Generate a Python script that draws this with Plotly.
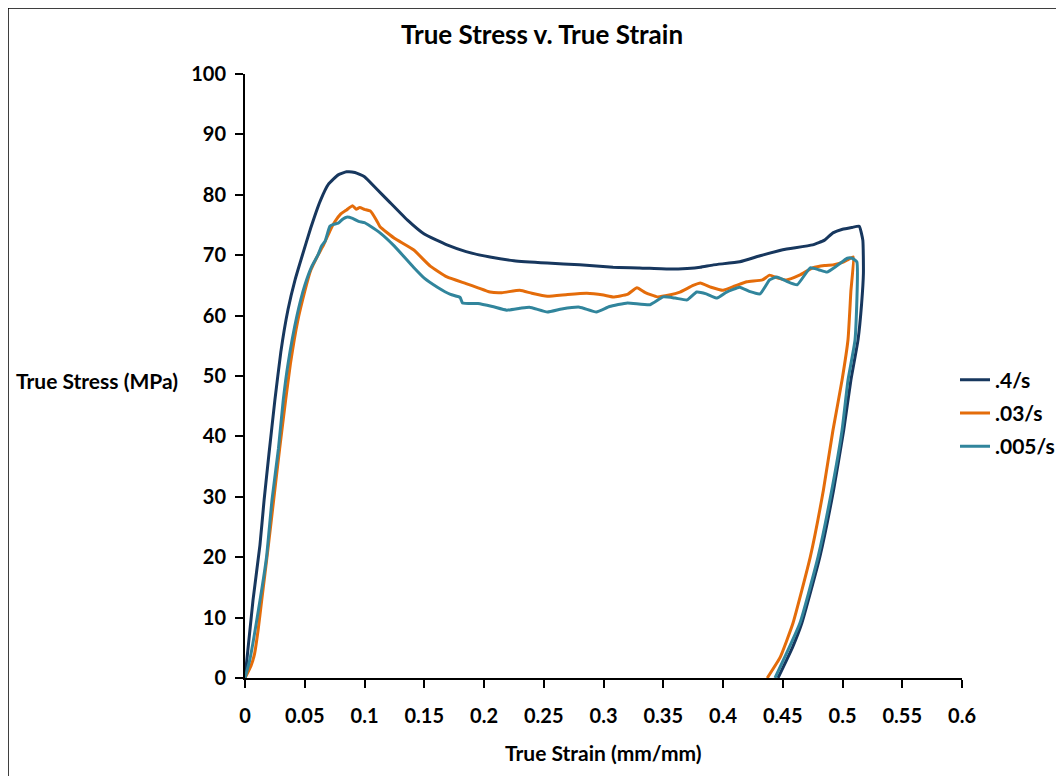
import plotly.graph_objects as go

# ---- data ----
series_names = [".4/s", ".03/s", ".005/s"]
series_colors = ["#17375E", "#E46C0A", "#31859C"]

strain_04 = [0, 0.0067, 0.0125, 0.016, 0.020, 0.025, 0.030, 0.036, 0.042, 0.048, 0.055, 0.063,
             0.070, 0.078, 0.085, 0.092, 0.100, 0.110, 0.120, 0.136, 0.150, 0.169, 0.185, 0.205,
             0.225, 0.253, 0.280, 0.308, 0.330, 0.356, 0.370, 0.381, 0.392, 0.414, 0.431, 0.450,
             0.475, 0.485, 0.492, 0.500, 0.508, 0.514, 0.517, 0.5175, 0.516, 0.513, 0.507, 0.501,
             0.4925, 0.481, 0.466, 0.458, 0.446]
stress_04 = [0, 12.9, 22, 29.5, 37, 46, 54, 61, 66, 70, 74.5, 79,
             81.8, 83.3, 83.8, 83.7, 83.0, 81.0, 79.0, 75.8, 73.5, 71.7, 70.6, 69.7,
             69.1, 68.7, 68.4, 68.0, 67.9, 67.7, 67.8, 68.0, 68.4, 68.9, 69.9, 70.9,
             71.7, 72.5, 73.7, 74.3, 74.6, 74.8, 72.5, 67, 62, 56, 49.3, 41,
             31.1, 20, 9.1, 5, 0]

strain_003 = [0, 0.005, 0.008, 0.011, 0.014, 0.019, 0.024, 0.029, 0.034, 0.038, 0.044, 0.050,
              0.055, 0.061, 0.066, 0.071, 0.075, 0.080, 0.085, 0.090, 0.093, 0.096, 0.100, 0.105,
              0.110, 0.113, 0.125, 0.141, 0.155, 0.169, 0.185, 0.195, 0.205, 0.215, 0.230, 0.240,
              0.253, 0.270, 0.286, 0.300, 0.308, 0.320, 0.328, 0.335, 0.345, 0.355, 0.364, 0.375,
              0.381, 0.390, 0.400, 0.410, 0.420, 0.433, 0.439, 0.446, 0.453, 0.464, 0.475, 0.485,
              0.492, 0.500, 0.504, 0.509, 0.507, 0.5046, 0.4996, 0.492, 0.484, 0.473, 0.4586,
              0.448, 0.437]
stress_003 = [0, 2, 4, 8, 12.9, 21, 29.5, 38, 46, 52, 59, 64,
              67.5, 70, 71.8, 74, 75.5, 76.8, 77.5, 78.2, 77.6, 77.9, 77.6, 77.3,
              75.8, 74.7, 72.8, 70.9, 68.2, 66.4, 65.3, 64.6, 63.9, 63.8, 64.2, 63.7,
              63.2, 63.5, 63.7, 63.4, 63.1, 63.5, 64.6, 63.8, 63.1, 63.4, 63.9, 65.0,
              65.4, 64.7, 64.2, 64.9, 65.6, 65.9, 66.7, 66.2, 65.9, 66.7, 67.9, 68.3,
              68.4, 68.8, 69.2, 69.7, 64, 56, 49.3, 41, 31.1, 20, 9.1,
              3.5, 0]

strain_0005 = [0, 0.004, 0.0126, 0.018, 0.0226, 0.028, 0.032, 0.036, 0.0435, 0.050, 0.056, 0.061,
               0.064, 0.067, 0.071, 0.074, 0.078, 0.082, 0.085, 0.090, 0.095, 0.100, 0.105, 0.113,
               0.125, 0.141, 0.150, 0.161, 0.172, 0.180, 0.182, 0.195, 0.207, 0.219, 0.230, 0.238,
               0.253, 0.265, 0.280, 0.294, 0.305, 0.320, 0.339, 0.350, 0.360, 0.370, 0.378, 0.386,
               0.395, 0.403, 0.414, 0.422, 0.431, 0.439, 0.445, 0.453, 0.462, 0.473, 0.480, 0.487,
               0.495, 0.504, 0.508, 0.512, 0.5105, 0.5046, 0.4996, 0.491, 0.4795, 0.4644, 0.4435]
stress_0005 = [0, 3, 12.9, 20, 29.5, 38, 46, 52, 60, 65, 68.2, 70,
               71.5, 72.3, 74.8, 75.1, 75.3, 76.0, 76.3, 76.1, 75.6, 75.4, 74.8, 73.7,
               71.5, 68.0, 66.2, 64.7, 63.5, 63.0, 62.1, 62.0, 61.5, 60.9, 61.2, 61.4,
               60.6, 61.1, 61.4, 60.6, 61.5, 62.1, 61.8, 63.1, 62.9, 62.6, 63.9, 63.6,
               62.9, 63.9, 64.7, 64.0, 63.6, 65.9, 66.4, 65.7, 65.1, 67.9, 67.6, 67.2,
               68.2, 69.5, 69.5, 68.9, 56, 49.3, 41, 31.1, 20, 9.1, 0]

x_tick_vals = [0, 0.05, 0.1, 0.15, 0.2, 0.25, 0.3, 0.35, 0.4, 0.45, 0.5, 0.55, 0.6]
x_tick_text = ["0", "0.05", "0.1", "0.15", "0.2", "0.25", "0.3", "0.35", "0.4", "0.45", "0.5", "0.55", "0.6"]
y_tick_vals = [0, 10, 20, 30, 40, 50, 60, 70, 80, 90, 100]

FONT = "Lato, 'Open Sans', sans-serif"

fig = go.Figure()
all_x = [strain_04, strain_003, strain_0005]
all_y = [stress_04, stress_003, stress_0005]
for i, name in enumerate(series_names):
    fig.add_trace(go.Scatter(
        x=all_x[i], y=all_y[i], mode="lines", name="<b>%s</b>" % name,
        legendgroup=name,
        line=dict(color=series_colors[i], width=3, shape="spline", smoothing=0.4),
    ))

# page is offset by the browser's 8px body margin
OFF = 8
W, H = 1064, 776
PL, PR, PT, PB = 245, 962, 74, 678          # plot area in page pixels
L, T = PL - OFF, PT - OFF
R, B = W - (PR - OFF), H - (PB - OFF)
pw, ph = PR - PL, PB - PT

def px_x(px):
    return (px - PL) / pw

def px_y(py):
    return (PB - py) / ph

fig.update_layout(
    width=W, height=H,
    margin=dict(l=L, r=R, t=T, b=B),
    paper_bgcolor="white", plot_bgcolor="white",
    font=dict(family=FONT, size=20, color="black"),
    title=dict(text="<b>True Stress v. True Strain</b>", x=(542 - OFF) / W, xanchor="center",
               y=1 - (35 - OFF) / H, yanchor="middle", yref="container",
               font=dict(family=FONT, size=26, color="black")),
    showlegend=True,
    legend=dict(x=px_x(955), xanchor="left", y=px_y(413), yanchor="middle",
                traceorder="grouped", tracegroupgap=3,
                font=dict(family=FONT, size=21, color="black"),
                bgcolor="rgba(0,0,0,0)", itemwidth=30),
    xaxis=dict(range=[0, 0.6], tickvals=x_tick_vals, ticktext=["<b>%s</b>" % t for t in x_tick_text],
               showgrid=False, zeroline=False, showline=True, linecolor="black", linewidth=2,
               ticks="outside", ticklen=8, tickwidth=2, tickcolor="black",
               ticklabelstandoff=11, fixedrange=True),
    yaxis=dict(range=[0, 100], tickvals=y_tick_vals, ticktext=["<b>%d</b>" % v for v in y_tick_vals],
               showgrid=False, zeroline=False, showline=True, linecolor="black", linewidth=2,
               ticks="outside", ticklen=8, tickwidth=2, tickcolor="black",
               ticklabelstandoff=5, fixedrange=True),
    annotations=[
        dict(text="<b>True Stress (MPa)</b>", xref="paper", yref="paper",
             x=px_x(14), y=px_y(380), xanchor="left", yanchor="middle", showarrow=False,
             font=dict(family=FONT, size=21, color="black")),
        dict(text="<b>True Strain (mm/mm)</b>", xref="paper", yref="paper",
             x=px_x(603), y=px_y(752), xanchor="center", yanchor="middle", showarrow=False,
             font=dict(family=FONT, size=21, color="black")),
    ],
    shapes=[dict(type="rect", xref="paper", yref="paper",
                 x0=px_x(7.5), x1=px_x(1090), y0=px_y(800), y1=px_y(7.5),
                 line=dict(color="black", width=2.5), layer="below")],
)

fig.write_html("out.html")
